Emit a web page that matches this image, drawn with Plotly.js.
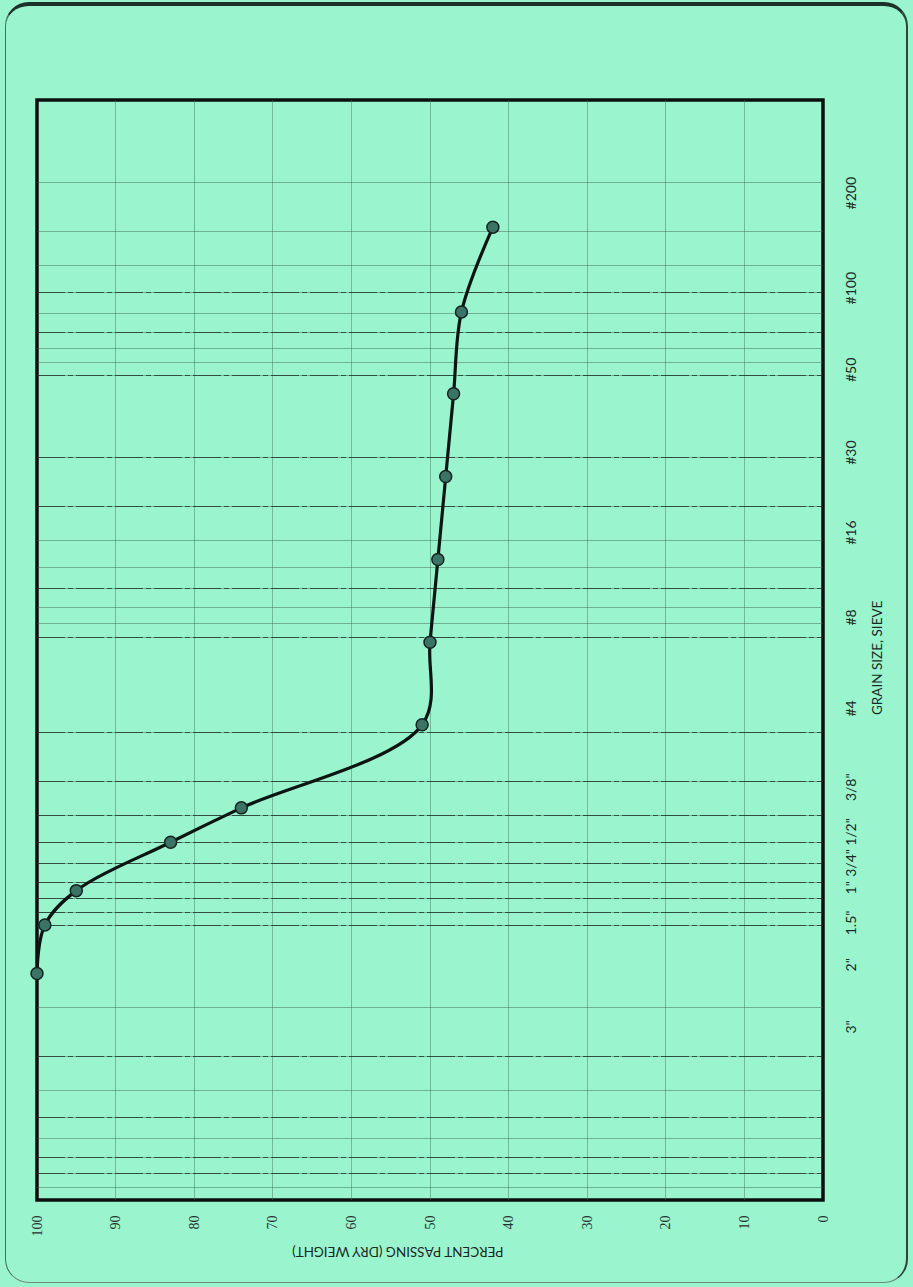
<!DOCTYPE html>
<html>
<head>
<meta charset="utf-8">
<script src="https://cdn.plot.ly/plotly-3.0.1.min.js"></script>
<style>
  html, body { margin: 0; padding: 0; background: #9af5ce; }
  #wrap { position: relative; width: 913px; height: 1287px; overflow: hidden; }
  #chart { position: absolute; left: 0; top: 0; width: 913px; height: 1287px; }
  #frame {
    position: absolute; left: 5px; top: 2px; width: 900px; height: 1276px;
    border-top: 4px solid #1c3129; border-left: 1.5px solid #4d6b60;
    border-right: 2px solid #2b463d; border-bottom: 1.5px solid #6f8a80;
    border-radius: 24px; pointer-events: none;
  }
</style>
</head>
<body>
<div id="wrap">
  <div id="chart"></div>
  <div id="frame"></div>
</div>
<script>
// ---- data (grain size in inches, percent passing by dry weight) ----
const sieveNames     = ['1.5"', '1"', '3/4"', '1/2"', '3/8"', '#4', '#8', '#16', '#30', '#50', '#100', '#200'];
const grainSizeIn    = [1.5, 1.0, 0.75, 0.5, 0.375, 0.187, 0.0937, 0.0469, 0.0234, 0.0117, 0.0059, 0.0029];
const percentPassing = [100, 99, 95, 83, 74, 51, 50, 49, 48, 47, 46, 42];

// ---- right-hand sieve tick labels (positions as printed on the chart, inches) ----
const sieveTickText = ['#200', '#100', '#50', '#30', '#16', '#8', '#4', '3/8"', '1/2"', '3/4"', '1"', '1.5"', '2"', '3"'];
const sieveTickPos  = [0.00222, 0.00492, 0.00975, 0.0195, 0.0381, 0.0775, 0.166, 0.321, 0.467, 0.605, 0.745, 1.0, 1.42, 2.39];

// ---- percent axis ticks ----
const percentTicks = [100, 90, 80, 70, 60, 50, 40, 30, 20, 10, 0];

// ---- log-cycle grid lines (inches) ----
const allGrid   = [0.002, 0.003, 0.004, 0.005, 0.006, 0.007, 0.008, 0.009, 0.01,
                   0.02, 0.03, 0.04, 0.05, 0.06, 0.07, 0.08, 0.09,
                   0.2, 0.3, 0.4, 0.5, 0.6, 0.7, 0.8, 0.9, 1,
                   2, 3, 4, 5, 6, 7, 8, 9];
const darkGrid  = [0.005, 0.007, 0.01, 0.02, 0.03, 0.06, 0.09, 0.2, 0.3, 0.4, 0.5, 0.6, 0.7, 0.8, 0.9, 1, 3, 5, 7, 8];

const trace = {
  x: percentPassing,
  y: grainSizeIn,
  text: sieveNames,
  type: 'scatter',
  mode: 'lines+markers',
  line: { color: '#0d1512', width: 3.2, shape: 'spline', smoothing: 1 },
  marker: { size: 12, color: '#3b7465', line: { color: '#14241f', width: 1.5 } },
  cliponaxis: false,
  hoverinfo: 'x+y+text',
  showlegend: false
};

const ghost2 = { x: [50], y: [0.1], yaxis: 'y2', type: 'scatter', mode: 'markers',
  marker: { opacity: 0 }, hoverinfo: 'skip', showlegend: false };
const ghost3 = { x: [50], y: [0.1], yaxis: 'y3', type: 'scatter', mode: 'markers',
  marker: { opacity: 0 }, hoverinfo: 'skip', showlegend: false };

const layout = {
  width: 913, height: 1287,
  margin: { l: 37, r: 90, t: 100, b: 87 },
  paper_bgcolor: '#9af5ce',
  plot_bgcolor: '#9af5ce',
  font: { family: 'Lato, "Open Sans", sans-serif', color: '#1a2a25' },
  xaxis: {
    range: [100, 0],
    tickmode: 'array', tickvals: percentTicks, ticktext: percentTicks.map(String),
    tickangle: -90,
    tickfont: { family: '"Liberation Serif", "DejaVu Serif", serif', size: 14, color: '#26332f' },
    ticks: 'outside', ticklen: 9, tickcolor: 'rgba(0,0,0,0)',
    showgrid: true, gridcolor: 'rgba(70,110,92,0.45)', gridwidth: 1,
    zeroline: false, showline: false, fixedrange: true
  },
  yaxis: {
    type: 'log', range: [1, -3],
    tickmode: 'array', tickvals: allGrid, showticklabels: false, ticks: '',
    showgrid: true, gridcolor: 'rgba(60,95,80,0.45)', gridwidth: 1,
    zeroline: false, showline: false, fixedrange: true
  },
  yaxis3: {
    type: 'log', range: [1, -3], overlaying: 'y', side: 'left',
    tickmode: 'array', tickvals: darkGrid, showticklabels: false, ticks: '',
    showgrid: true, gridcolor: 'rgba(20,35,30,0.7)', gridwidth: 1,
    griddash: '28px,3px,5px,3px',
    zeroline: false, showline: false, fixedrange: true
  },
  yaxis2: {
    type: 'log', range: [1, -3], overlaying: 'y', side: 'right',
    tickmode: 'array', tickvals: sieveTickPos, ticktext: sieveTickText,
    tickangle: -90,
    tickfont: { family: 'Lato, "Open Sans", sans-serif', size: 14, color: '#1a2a25' },
    ticks: 'outside', ticklen: 15, tickcolor: 'rgba(0,0,0,0)',
    showgrid: false, zeroline: false, showline: false, fixedrange: true
  },
  shapes: [
    { type: 'rect', xref: 'paper', yref: 'paper', x0: 0, x1: 1, y0: 0, y1: 1,
      line: { color: '#0b100e', width: 3.5 }, layer: 'between' }
  ],
  annotations: [
    { text: 'GRAIN SIZE, SIEVE', xref: 'paper', yref: 'paper', x: 1.0814, y: 0.4936,
      textangle: -90, showarrow: false, font: { size: 13.5, color: '#1a2a25' } },
    { text: 'PERCENT PASSING (DRY WEIGHT)', xref: 'paper', yref: 'paper', x: 0.459, y: -0.0564,
      textangle: 180, showarrow: false, font: { size: 13.5, color: '#1a2a25' } }
  ]
};

Plotly.newPlot('chart', [trace, ghost2, ghost3], layout, { displayModeBar: false });
</script>
</body>
</html>
